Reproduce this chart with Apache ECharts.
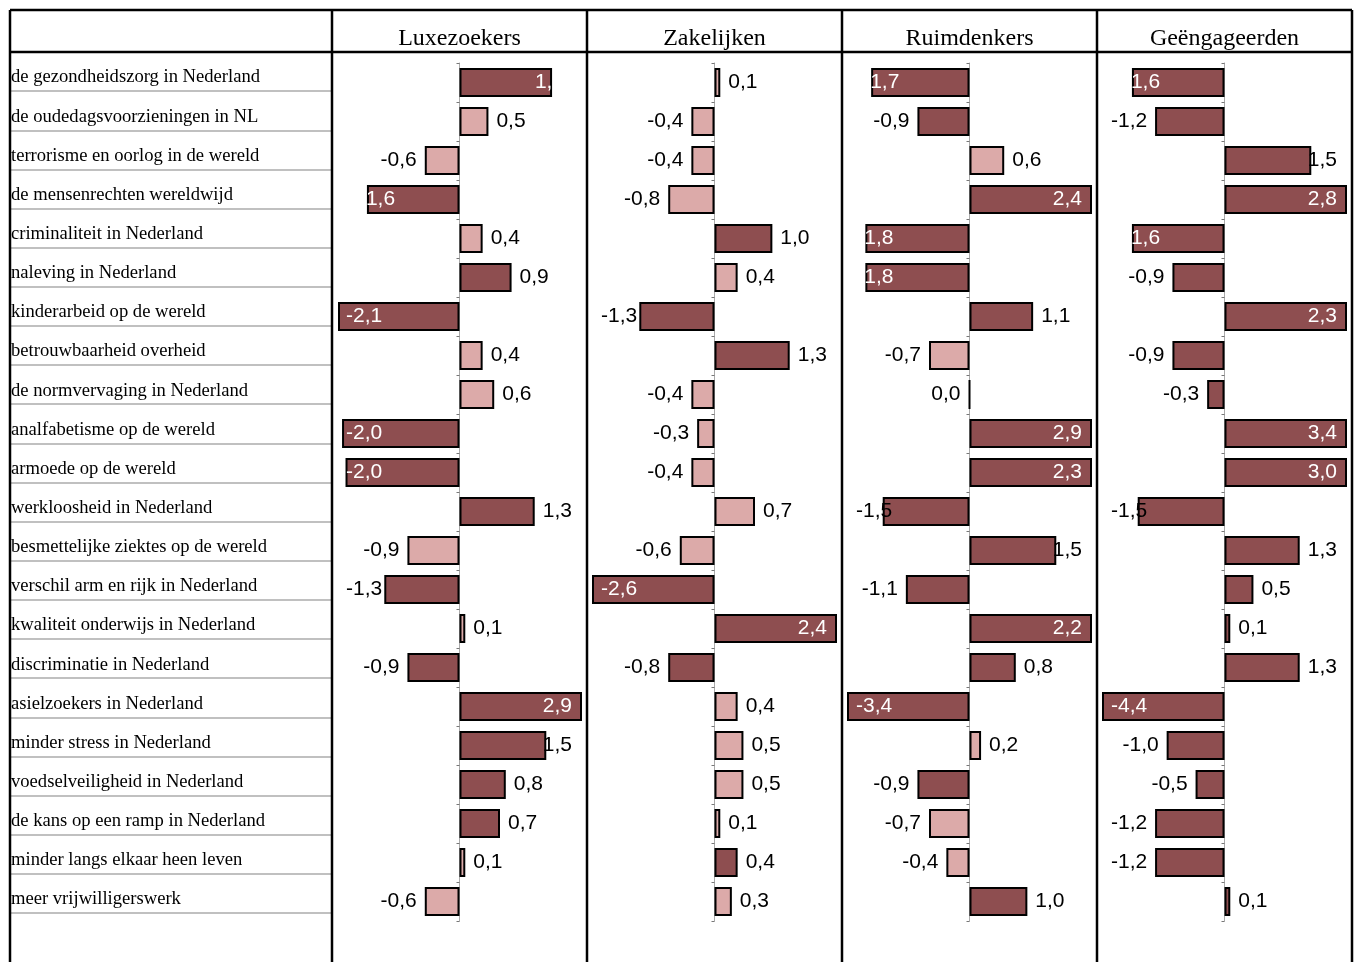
<!DOCTYPE html>
<html>
<head>
<meta charset="utf-8">
<script src="https://cdn.jsdelivr.net/npm/echarts/dist/echarts.min.js"></script>
<style>
html,body{margin:0;padding:0;background:#fff;}
#chart{width:1354px;height:962px;}
</style>
</head>
<body>
<div id="chart"></div>
<script>
// ---------- DATA ----------
const categories = [
  'de gezondheidszorg in Nederland',
  'de oudedagsvoorzieningen in NL',
  'terrorisme en oorlog in de wereld',
  'de mensenrechten wereldwijd',
  'criminaliteit in Nederland',
  'naleving in Nederland',
  'kinderarbeid op de wereld',
  'betrouwbaarheid overheid',
  'de normvervaging in Nederland',
  'analfabetisme op de wereld',
  'armoede op de wereld',
  'werkloosheid in Nederland',
  'besmettelijke ziektes op de wereld',
  'verschil arm en rijk in Nederland',
  'kwaliteit onderwijs in Nederland',
  'discriminatie in Nederland',
  'asielzoekers in Nederland',
  'minder stress in Nederland',
  'voedselveiligheid in Nederland',
  'de kans op een ramp in Nederland',
  'minder langs elkaar heen leven',
  'meer vrijwilligerswerk'
];
const groups = ['Luxezoekers', 'Zakelijken', 'Ruimdenkers', 'Geëngageerden'];

const luxezoekers   = [1.6, 0.5, -0.6, -1.6, 0.4, 0.9, -2.1, 0.4, 0.6, -2.03, -1.97, 1.3, -0.9, -1.3, 0.1, -0.9, 2.9, 1.5, 0.8, 0.7, 0.1, -0.6];
const luxezoekersDark   = [1, 0, 0, 1, 0, 1, 1, 0, 0, 1, 1, 1, 0, 1, 0, 1, 1, 1, 1, 1, 0, 0];

const zakelijken    = [0.1, -0.4, -0.4, -0.8, 1.0, 0.4, -1.3, 1.3, -0.4, -0.3, -0.4, 0.7, -0.6, -2.6, 2.4, -0.8, 0.4, 0.5, 0.5, 0.1, 0.4, 0.3];
const zakelijkenDark    = [0, 0, 0, 0, 1, 0, 1, 1, 0, 0, 0, 0, 0, 1, 1, 1, 0, 0, 0, 0, 1, 0];

const ruimdenkers   = [-1.7, -0.9, 0.6, 2.4, -1.8, -1.8, 1.1, -0.7, 0.0, 2.9, 2.3, -1.5, 1.5, -1.1, 2.2, 0.8, -3.4, 0.2, -0.9, -0.7, -0.4, 1.0];
const ruimdenkersDark   = [1, 1, 0, 1, 1, 1, 1, 0, 0, 1, 1, 1, 1, 1, 1, 1, 1, 0, 1, 0, 0, 1];

const geengageerden = [-1.6, -1.2, 1.5, 2.8, -1.6, -0.9, 2.3, -0.9, -0.3, 3.4, 3.0, -1.5, 1.3, 0.5, 0.1, 1.3, -4.4, -1.0, -0.5, -1.2, -1.2, 0.1];
const geengageerdenDark = [1, 1, 1, 1, 1, 1, 1, 1, 1, 1, 1, 1, 1, 1, 1, 1, 1, 1, 1, 1, 1, 1];

const panelValues = [luxezoekers, zakelijken, ruimdenkers, geengageerden];
const panelDark = [luxezoekersDark, zakelijkenDark, ruimdenkersDark, geengageerdenDark];

// ---------- STYLE / LAYOUT ----------
const DARK = '#8E4E50';
const LIGHT = '#DCAAA9';
const colX = [10, 332, 587, 842, 1097, 1352];
const gridLeft = [338, 593, 848, 1103];
const gridWidth = 243;
const gridTop = 63, gridHeight = 858;
const labelTop = 52, labelHeight = 861, labelTextShift = 6;

const fmt = v => v.toFixed(1).replace('.', ',');

function labelFor(v) {
  const white = Math.abs(v) >= 1.55;
  if (v > 0) {
    return white ? { position: 'insideRight', distance: -12, color: '#fff' }
                 : { position: 'right', distance: 8, color: '#000' };
  }
  return white ? { position: 'insideLeft', distance: -8, color: '#fff' }
               : { position: 'left', distance: 8, color: '#000' };
}

function layoutFor(i) {
  const lo = gridLeft[i] + 8, hi = gridLeft[i] + gridWidth - 9;
  return function (params) {
    const r = params.labelRect;
    if (r.x < lo) return { dx: lo - r.x };
    if (r.x + r.width > hi) return { dx: hi - (r.x + r.width) };
    return {};
  };
}

const grids = [], xAxes = [], yAxes = [], series = [];
groups.forEach((g, i) => {
  grids.push({ left: gridLeft[i], top: gridTop, width: gridWidth, height: gridHeight, containLabel: false, outerBoundsMode: 'none' });
  xAxes.push({ type: 'value', gridIndex: i, min: -2.1, max: 2.1, show: false });
  yAxes.push({
    type: 'category', gridIndex: i, data: categories, inverse: true,
    axisLabel: { show: false },
    axisTick: { show: true, length: 3, interval: 0, lineStyle: { color: '#777', width: 1 } },
    axisLine: { show: true, onZero: true, lineStyle: { color: '#aaa', width: 1 } },
    splitLine: { show: false }
  });
  series.push({
    type: 'bar', name: g, xAxisIndex: i, yAxisIndex: i,
    barWidth: 29, clip: true,
    itemStyle: { borderColor: '#000', borderWidth: 2 },
    label: { show: true, fontFamily: 'Liberation Sans', fontSize: 21, formatter: p => fmt(p.value) },
    labelLayout: layoutFor(i),
    data: panelValues[i].map((v, j) => ({
      value: v,
      itemStyle: { color: panelDark[i][j] ? DARK : LIGHT },
      label: labelFor(v)
    }))
  });
});

// label column: row separators (grid 4)
grids.push({ left: 10, top: labelTop, width: 321, height: labelHeight, containLabel: false, outerBoundsMode: 'none' });
xAxes.push({ type: 'value', gridIndex: 4, min: 0, max: 1, show: false });
yAxes.push({
  type: 'category', gridIndex: 4, data: categories, inverse: true,
  axisLine: { show: false }, axisTick: { show: false }, axisLabel: { show: false },
  splitLine: { show: true, interval: 0, lineStyle: { color: '#c0c0c0', width: 2 } }
});
// label column: texts (grid 5)
grids.push({ left: 10, top: labelTop + labelTextShift, width: 321, height: labelHeight, containLabel: false, outerBoundsMode: 'none' });
xAxes.push({ type: 'value', gridIndex: 5, min: 0, max: 1, show: false });
yAxes.push({
  type: 'category', gridIndex: 5, data: categories, inverse: true,
  axisLine: { show: false }, axisTick: { show: false }, splitLine: { show: false },
  axisLabel: { inside: true, margin: 1, interval: 0, color: '#000', fontFamily: 'Liberation Serif', fontSize: 18.6 }
});

// table lines and headers
const graphics = [];
colX.forEach(x => {
  graphics.push({ type: 'line', z: 100, shape: { x1: x, y1: 10, x2: x, y2: 962 }, style: { stroke: '#000', lineWidth: 2.5 } });
});
[10, 52].forEach(y => {
  graphics.push({ type: 'line', z: 100, shape: { x1: 10, y1: y, x2: 1352, y2: y }, style: { stroke: '#000', lineWidth: 2.5 } });
});
groups.forEach((g, i) => {
  graphics.push({ type: 'text', z: 100, x: (colX[i + 1] + colX[i + 2]) / 2, y: 39,
    style: { text: g, fill: '#000', font: '24px "Liberation Serif"', align: 'center', verticalAlign: 'middle' } });
});

const chart = echarts.init(document.getElementById('chart'), null, { renderer: 'canvas' });
chart.setOption({
  animation: false,
  backgroundColor: '#fff',
  grid: grids,
  xAxis: xAxes,
  yAxis: yAxes,
  series: series,
  graphic: graphics
});
</script>
</body>
</html>
